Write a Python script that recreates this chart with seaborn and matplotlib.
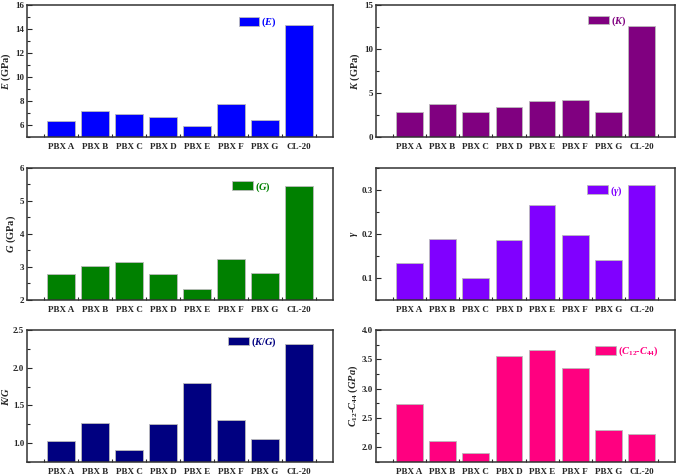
import numpy as np
import pandas as pd
import matplotlib
matplotlib.use('Agg')
import matplotlib.pyplot as plt
from matplotlib.ticker import MultipleLocator, FixedLocator
import seaborn as sns

samples = ['PBX A', 'PBX B', 'PBX C', 'PBX D', 'PBX E', 'PBX F', 'PBX G', 'CL-20']

young_E = [6.31, 7.19, 6.89, 6.64, 5.89, 7.72, 6.44, 14.37]
bulk_K = [2.82, 3.80, 2.82, 3.46, 4.14, 4.21, 2.89, 12.67]
shear_G = [2.79, 3.03, 3.14, 2.80, 2.34, 3.23, 2.82, 5.46]
poisson = [0.135, 0.189, 0.099, 0.187, 0.266, 0.197, 0.140, 0.311]
k_over_g = [1.03, 1.27, 0.91, 1.26, 1.80, 1.31, 1.05, 2.32]
cauchy = [2.74, 2.11, 1.90, 3.56, 3.66, 3.36, 2.30, 2.23]

sns.set_theme(style='white')
plt.rcParams['font.family'] = ['Liberation Serif', 'DejaVu Serif']
plt.rcParams['font.weight'] = 'bold'
plt.rcParams['axes.labelweight'] = 'bold'
plt.rcParams['mathtext.fontset'] = 'custom'
plt.rcParams['mathtext.it'] = 'Liberation Serif:italic:bold'
plt.rcParams['mathtext.rm'] = 'Liberation Serif:bold'
plt.rcParams['mathtext.bf'] = 'Liberation Serif:bold'

# (values, colour, ylabel, legend label, ylim, major, minor, legend anchor)
panels = [
    (young_E, '#0000ff', r'$E$ (GPa)', r'($E$)', (5, 16), 2, 1, (0.83, 0.95)),
    (bulk_K, '#800080', r'$K$ (GPa)', r'($K$)', (0, 15), 5, 2.5, (0.85, 0.96)),
    (shear_G, '#008000', r'$G$ (GPa)', r'($G$)', (2, 6), 1, 0.5, (0.81, 0.94)),
    (poisson, '#8000ff', r'$\gamma$', r'($\gamma$)', (0.05, 0.35), 0.1, 0.05, (0.84, 0.91)),
    (k_over_g, '#000080', r'$K/G$', r'($K/G$)', (0.75, 2.5), 0.5, 0.25, (0.83, 0.99)),
    (cauchy, '#ff0080', r'$C_{12}$-$C_{44}$ $(GPa)$', r'($C_{12}$-$C_{44}$)', (1.75, 4.0), 0.5, 0.25, (0.96, 0.92)),
]

fig = plt.figure(figsize=(6.85, 4.75), dpi=100)
lefts = [27 / 685, 376 / 685]
widths = [306 / 685, 299 / 685]
bottoms = [1 - 137 / 475, 1 - 300 / 475, 1 - 462 / 475]
height = 132 / 475

for i, (vals, col, ylab, leg, ylim, maj, mnr, anchor) in enumerate(panels):
    r, c = divmod(i, 2)
    ax = fig.add_axes([lefts[c], bottoms[r], widths[c], height])
    df = pd.DataFrame({'sample': samples, 'value': vals})
    sns.barplot(data=df, x='sample', y='value', color=col, saturation=1,
                width=0.8, edgecolor='#bbbbbb', linewidth=0.6, ax=ax)
    ax.set_xlim(-1, 8)
    ax.set_ylim(*ylim)
    ax.yaxis.set_major_locator(MultipleLocator(maj))
    ax.yaxis.set_minor_locator(MultipleLocator(mnr))
    ax.xaxis.set_minor_locator(FixedLocator(np.arange(-0.5, 8, 1)))
    ax.tick_params(axis='x', which='major', length=0, labelsize=6.5, pad=4.5)
    ax.tick_params(axis='x', which='minor', direction='in', length=2.5, width=0.8, bottom=True)
    ax.tick_params(axis='y', which='major', direction='in', length=3.5, width=0.8, left=True, labelsize=6.5, pad=2)
    ax.tick_params(axis='y', which='minor', direction='in', length=2, width=0.8, left=True)
    ax.set_xlabel('')
    ax.set_ylabel(ylab, fontsize=7.5, labelpad=1.5)
    for s in ax.spines.values():
        s.set_color('#333333')
        s.set_linewidth(1.1)
    ax.legend([ax.patches[0]], [leg], loc='upper right', bbox_to_anchor=anchor,
              frameon=False, fontsize=7.5, labelcolor=col, handlelength=2.0,
              handleheight=0.9, handletextpad=0.2, borderaxespad=0)

fig.savefig('out.png', dpi=100)
